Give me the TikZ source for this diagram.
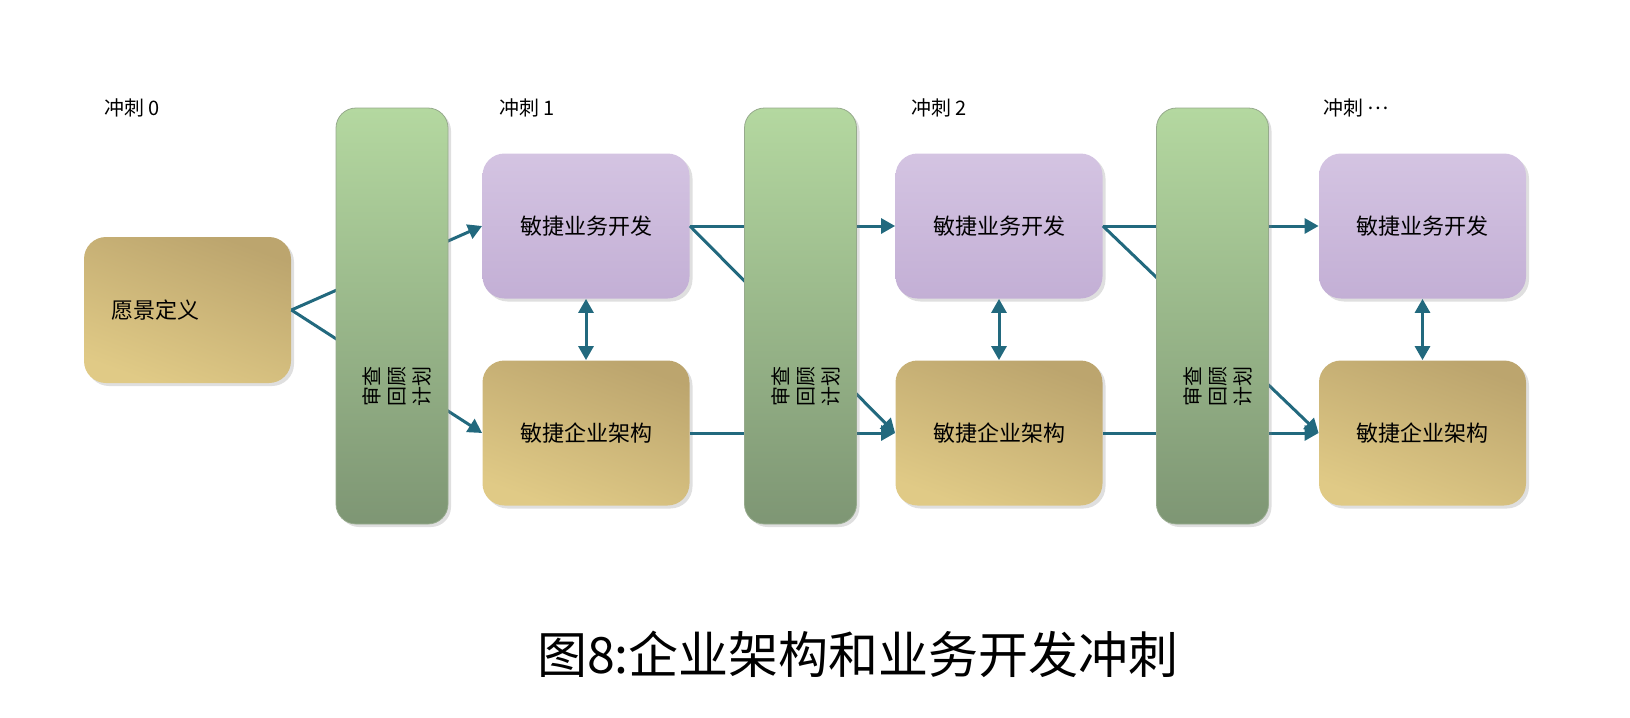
\documentclass[tikz,border=0pt]{standalone}
\usepackage{fontspec}
\setmainfont{Noto Sans CJK SC}
\usetikzlibrary{arrows.meta,shadows}

\definecolor{linkcol}{RGB}{34,105,126}
\definecolor{devtop}{RGB}{212,196,226}
\definecolor{devfill}{RGB}{195,175,213}
\definecolor{archdark}{RGB}{188,165,110}
\definecolor{archlight}{RGB}{224,202,134}
\definecolor{bartop}{RGB}{180,216,160}
\definecolor{barbottom}{RGB}{126,150,116}
\definecolor{barline}{RGB}{150,170,140}

\begin{document}
\begin{tikzpicture}[
    x=0.5pt, y=-0.5pt,
    every node/.style={font=\fontsize{11}{13}\selectfont},
    box/.style={rectangle,rounded corners=11pt,minimum width=103.5pt,minimum height=72.5pt,inner sep=0pt,align=center,
        drop shadow={shadow xshift=1.5pt,shadow yshift=-1.5pt,opacity=0.25}},
    devbox/.style={box,top color=devtop,bottom color=devfill},
    archbox/.style={box,shading=axis,top color=archdark,bottom color=archlight,shading angle=-20},
    visionbox/.style={archbox,minimum height=73pt,text width=75.5pt,inner xsep=13pt,align=left},
    bar/.style={rectangle,rounded corners=10pt,minimum width=56pt,minimum height=208pt,
        top color=bartop,bottom color=barbottom,draw=barline,line width=0.4pt,
        drop shadow={shadow xshift=1.5pt,shadow yshift=-1.5pt,opacity=0.25}},
    bartext/.style={rotate=90,align=center,inner sep=0pt,font=\fontsize{10}{12.5}\selectfont},
    sprint/.style={anchor=west,inner sep=0pt,font=\fontsize{10}{12}\selectfont},
    link/.style={draw=linkcol,line width=1.5pt,-{Triangle[length=7pt,width=7.5pt]}},
    duplex/.style={link,{Triangle[length=7pt,width=7.5pt]}-{Triangle[length=7pt,width=7.5pt]}}
]
\useasboundingbox (0,0) rectangle (1630,718);

% sprint titles
\node[sprint] (s0) at (104,108) {冲刺 0};
\node[sprint] (s1) at (499,108) {冲刺 1};
\node[sprint] (s2) at (911,108) {冲刺 2};
\node[sprint] (s3) at (1323,108) {冲刺 \raisebox{0.3em}{…}};

% boxes
\node[visionbox] (vision) at (187.5,310) {愿景定义};

\node[devbox] (dev1) at (586,226) {敏捷业务开发};
\node[archbox] (arch1) at (586,433) {敏捷企业架构};
\node[devbox] (dev2) at (999,226) {敏捷业务开发};
\node[archbox] (arch2) at (999,433) {敏捷企业架构};
\node[devbox] (dev3) at (1422.5,226) {敏捷业务开发};
\node[archbox] (arch3) at (1422.5,433) {敏捷企业架构};

% connectors, partly hidden by the bars
\draw[link] (vision.east) -- (dev1.west);
\draw[link] (vision.east) -- (arch1.west);
\draw[duplex] (dev1) -- (arch1);

\draw[link] (dev1.east) -- (dev2.west);
\draw[link] (dev1.east) -- (arch2.west);
\draw[link] (arch1.east) -- (arch2.west);
\draw[duplex] (dev2) -- (arch2);

\draw[link] (dev2.east) -- (dev3.west);
\draw[link] (dev2.east) -- (arch3.west);
\draw[link] (arch2.east) -- (arch3.west);
\draw[duplex] (dev3) -- (arch3);

% review bars
\node[bar] (bar1) at (392,316) {};
\node[bar] (bar2) at (800.5,316) {};
\node[bar] (bar3) at (1212.5,316) {};
\node[bartext] (review1) at ([xshift=2.5pt,yshift=-35pt]bar1.center) {审查\\回顾\\计划};
\node[bartext] (review2) at ([xshift=2.5pt,yshift=-35pt]bar2.center) {审查\\回顾\\计划};
\node[bartext] (review3) at ([xshift=2.5pt,yshift=-35pt]bar3.center) {审查\\回顾\\计划};

% caption
\node[font=\fontsize{25}{30}\selectfont] (caption) at (858,654) {图8:企业架构和业务开发冲刺};

\end{tikzpicture}
\end{document}
